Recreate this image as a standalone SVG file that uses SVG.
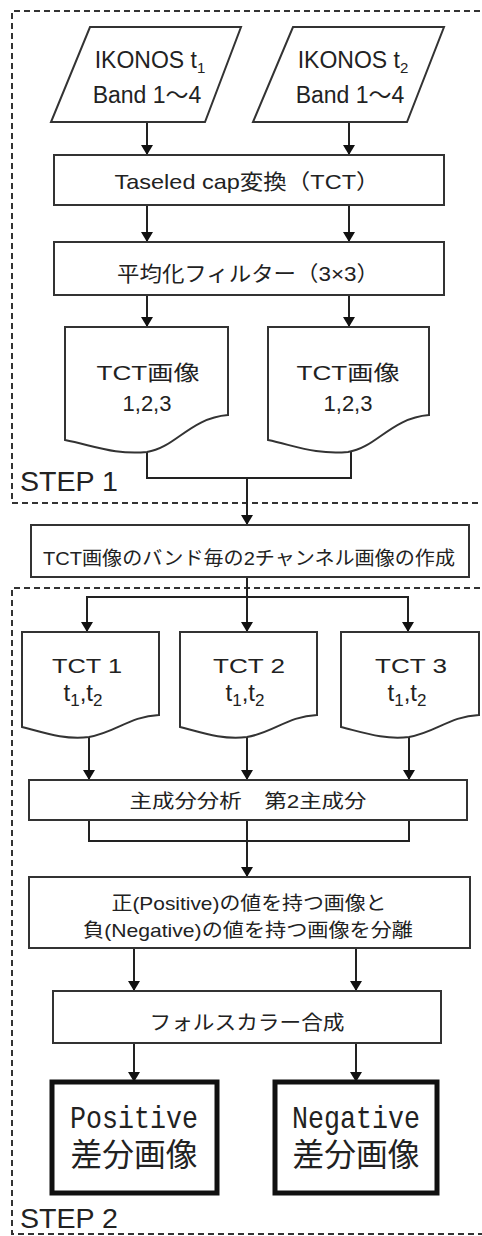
<svg xmlns="http://www.w3.org/2000/svg" width="482" height="1236" viewBox="0 0 482 1236">
<style>
.bx{fill:#fff;stroke:#333;stroke-width:2}
.thick{fill:#fff;stroke:#111;stroke-width:5}
.dash{fill:none;stroke:#333;stroke-width:2;stroke-dasharray:6 4}
.ln{fill:none;stroke:#222;stroke-width:2}
.t{font-family:"Liberation Sans","Noto Sans CJK JP",sans-serif;font-size:21px;fill:#222;text-anchor:middle}
.s{font-size:15px}
.m{font-family:"Liberation Mono","Noto Sans CJK JP",monospace;font-size:32px;fill:#222;text-anchor:middle}
.st{font-family:"Liberation Sans",sans-serif;font-size:27px;fill:#222}
</style>
<defs>
<marker id="ah" viewBox="0 0 10 12" markerWidth="10" markerHeight="12" refX="10" refY="6" orient="auto" markerUnits="userSpaceOnUse">
<path d="M0,0 L10,6 L0,12 Z" fill="#111"/>
</marker>
</defs>
<g id="step1-frame">
<path class="dash" d="M490,11 H12 V503 H490"/>
<text class="st" x="20" y="491" textLength="98" lengthAdjust="spacingAndGlyphs">STEP 1</text>
</g>
<g id="step2-frame">
<path class="dash" d="M490,588 H12 V1234 H490"/>
<text class="st" x="20" y="1228" textLength="98" lengthAdjust="spacingAndGlyphs">STEP 2</text>
</g>
<g id="connectors">
<line class="ln" x1="147" y1="122" x2="147" y2="155" marker-end="url(#ah)"/>
<line class="ln" x1="349" y1="122" x2="349" y2="155" marker-end="url(#ah)"/>
<line class="ln" x1="147" y1="205" x2="147" y2="242" marker-end="url(#ah)"/>
<line class="ln" x1="349" y1="205" x2="349" y2="242" marker-end="url(#ah)"/>
<line class="ln" x1="147" y1="295" x2="147" y2="327" marker-end="url(#ah)"/>
<line class="ln" x1="349" y1="295" x2="349" y2="327" marker-end="url(#ah)"/>
<path class="ln" d="M147,452 V478 H351 V451"/>
<line class="ln" x1="247" y1="478" x2="247" y2="525" marker-end="url(#ah)"/>
<path class="ln" d="M247,577 V597"/>
<path class="ln" d="M87,632 V597 H408 V632"/>
<line class="ln" x1="87" y1="597" x2="87" y2="632" marker-end="url(#ah)"/>
<line class="ln" x1="247" y1="597" x2="247" y2="632" marker-end="url(#ah)"/>
<line class="ln" x1="408" y1="597" x2="408" y2="632" marker-end="url(#ah)"/>
<line class="ln" x1="89" y1="737" x2="89" y2="780" marker-end="url(#ah)"/>
<line class="ln" x1="247" y1="737" x2="247" y2="780" marker-end="url(#ah)"/>
<line class="ln" x1="409" y1="737" x2="409" y2="780" marker-end="url(#ah)"/>
<path class="ln" d="M89,820 V841 H409 V820"/>
<line class="ln" x1="247" y1="820" x2="247" y2="877" marker-end="url(#ah)"/>
<line class="ln" x1="134" y1="948" x2="134" y2="991" marker-end="url(#ah)"/>
<line class="ln" x1="356" y1="948" x2="356" y2="991" marker-end="url(#ah)"/>
<line class="ln" x1="134" y1="1043" x2="134" y2="1082" marker-end="url(#ah)"/>
<line class="ln" x1="356" y1="1043" x2="356" y2="1082" marker-end="url(#ah)"/>
</g>
<g id="ikonos-t1">
<path class="bx" d="M90,27 H241 L205,122 H51 Z"/>
<text class="t" x="150" y="68" style="font-size:23px">IKONOS t<tspan class="s" dy="5">1</tspan></text>
<text class="t" x="147" y="103" style="font-size:23px">Band 1～4</text>
</g>
<g id="ikonos-t2">
<path class="bx" d="M293,27 H444 L407,122 H253 Z"/>
<text class="t" x="353" y="68" style="font-size:23px">IKONOS t<tspan class="s" dy="5">2</tspan></text>
<text class="t" x="350" y="103" style="font-size:23px">Band 1～4</text>
</g>
<g id="tct">
<rect class="bx" x="54" y="155" width="390" height="50"/>
<text class="t" x="247" y="189" textLength="265" lengthAdjust="spacingAndGlyphs">Taseled cap変換（TCT）</text>
</g>
<g id="filter">
<rect class="bx" x="54" y="242" width="390" height="53"/>
<text class="t" x="248" y="281" textLength="262" lengthAdjust="spacingAndGlyphs">平均化フィルター（3×3）</text>
</g>
<g id="tct-img-1">
<path class="bx" d="M65,327 H228 V415 C190,418 175,448 147,452 C115,455 95,446 65,440 Z"/>
<text class="t" x="148" y="380" textLength="103" lengthAdjust="spacingAndGlyphs">TCT画像</text>
<text class="t" x="147" y="411" style="font-size:22px">1,2,3</text>
</g>
<g id="tct-img-2">
<path class="bx" d="M268,327 H429 V415 C391,418 376,448 348,452 C316,455 296,446 268,440 Z"/>
<text class="t" x="348" y="380" textLength="103" lengthAdjust="spacingAndGlyphs">TCT画像</text>
<text class="t" x="348" y="411" style="font-size:22px">1,2,3</text>
</g>
<g id="two-channel">
<rect class="bx" x="31" y="525" width="438" height="52"/>
<text class="t" x="249" y="565" style="font-size:19px" textLength="412" lengthAdjust="spacingAndGlyphs">TCT画像のバンド毎の2チャンネル画像の作成</text>
</g>
<g id="tct1">
<path class="bx" d="M22,632 H159 V715 C130,716 115,733 89,737 C65,740 45,733 22,727 Z"/>
<text class="t" x="87" y="673" textLength="70" lengthAdjust="spacingAndGlyphs">TCT 1</text>
<text class="t" x="83" y="701" style="font-size:24px">t<tspan class="s" dy="5" style="font-size:17px">1</tspan><tspan dy="-5">,t</tspan><tspan class="s" dy="5" style="font-size:17px">2</tspan></text>
</g>
<g id="tct2">
<path class="bx" d="M180,632 H317 V715 C288,716 273,733 247,737 C223,740 203,733 180,727 Z"/>
<text class="t" x="249" y="673" textLength="72" lengthAdjust="spacingAndGlyphs">TCT 2</text>
<text class="t" x="245" y="701" style="font-size:24px">t<tspan class="s" dy="5" style="font-size:17px">1</tspan><tspan dy="-5">,t</tspan><tspan class="s" dy="5" style="font-size:17px">2</tspan></text>
</g>
<g id="tct3">
<path class="bx" d="M341,632 H479 V715 C450,716 435,733 409,737 C385,740 365,733 341,727 Z"/>
<text class="t" x="411" y="673" textLength="72" lengthAdjust="spacingAndGlyphs">TCT 3</text>
<text class="t" x="407" y="701" style="font-size:24px">t<tspan class="s" dy="5" style="font-size:17px">1</tspan><tspan dy="-5">,t</tspan><tspan class="s" dy="5" style="font-size:17px">2</tspan></text>
</g>
<g id="pca">
<rect class="bx" x="29" y="780" width="438" height="40"/>
<text class="t" x="248" y="808" style="font-size:19px" textLength="237" lengthAdjust="spacingAndGlyphs">主成分分析　第2主成分</text>
</g>
<g id="separate">
<rect class="bx" x="29" y="877" width="441" height="71"/>
<text class="t" x="249" y="910" style="font-size:19px" textLength="275" lengthAdjust="spacingAndGlyphs">正(Positive)の値を持つ画像と</text>
<text class="t" x="248" y="937" style="font-size:19px" textLength="330" lengthAdjust="spacingAndGlyphs">負(Negative)の値を持つ画像を分離</text>
</g>
<g id="false-color">
<rect class="bx" x="53" y="991" width="388" height="52"/>
<text class="t" x="247" y="1030" style="font-size:20px" textLength="195" lengthAdjust="spacingAndGlyphs">フォルスカラー合成</text>
</g>
<g id="positive">
<rect class="thick" x="52" y="1082" width="165" height="111"/>
<text class="m" x="134" y="1128" textLength="128" lengthAdjust="spacingAndGlyphs">Positive</text>
<text class="m" x="134" y="1166" textLength="127" lengthAdjust="spacingAndGlyphs">差分画像</text>
</g>
<g id="negative">
<rect class="thick" x="275" y="1082" width="162" height="111"/>
<text class="m" x="356" y="1128" textLength="128" lengthAdjust="spacingAndGlyphs">Negative</text>
<text class="m" x="356" y="1166" textLength="127" lengthAdjust="spacingAndGlyphs">差分画像</text>
</g>
</svg>
